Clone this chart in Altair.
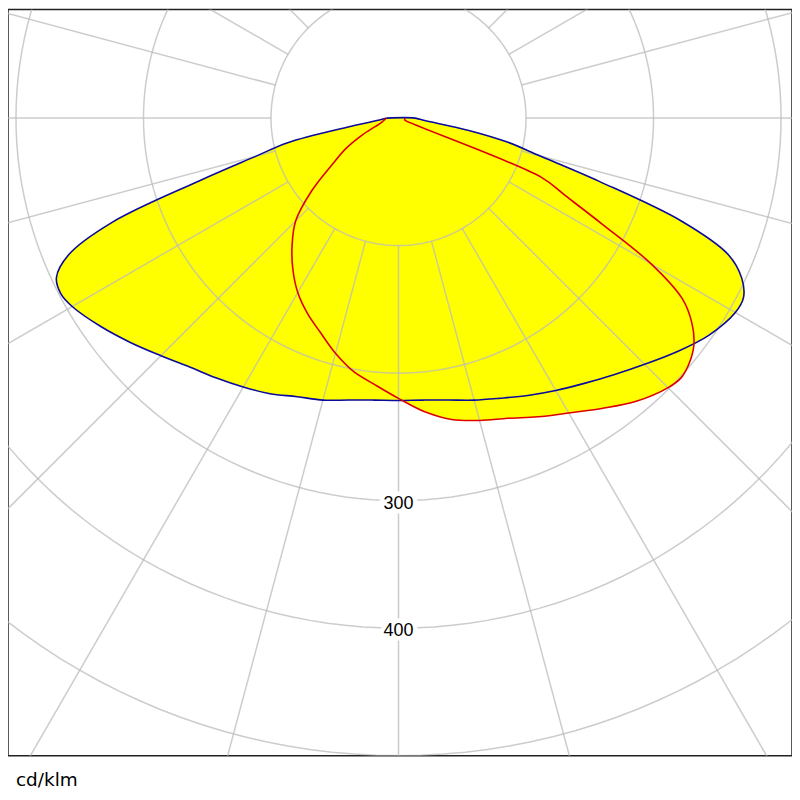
import altair as alt
import numpy as np
import pandas as pd

# ---- photometric data (cd/klm), gamma measured from nadir ----
# C0 (right half, blue)
c0_angle = [0, 5, 10, 15, 20, 25, 30, 35, 40, 45, 50, 55, 60, 62.5, 65, 67.5, 70, 72.5, 75, 77.5, 80, 85, 90]
c0_cd = [221.5, 222, 224.5, 229, 233.8, 240, 246.7, 254, 262.7, 273, 285, 297, 305, 305, 297, 280, 236, 165, 115, 88, 56, 19.7, 13]
# C180 (left half, blue)
c180_angle = [0, 5, 10, 15, 20, 25, 30, 35, 40, 45, 50, 55, 60, 62.5, 65, 67.5, 70, 72.5, 75, 77.5, 80, 85, 90]
c180_cd = [221.5, 222, 224.5, 229, 232.5, 238.5, 243.5, 248.8, 254.8, 263.5, 274, 285, 295.5, 298.5, 296, 280, 239, 164, 116, 89, 41, 13.6, 9]
# C90 (right half, red)
c90_angle = [0, 5, 10, 15, 20, 25, 30, 35, 40, 45, 47.5, 50, 52.5, 55, 57.5, 60, 62.5, 65, 67.5, 70, 75, 80, 85, 90]
c90_cd = [219.8, 231, 240, 245.5, 250.5, 258.5, 267, 278, 290, 299, 301, 298, 292, 281, 264, 229, 180, 145, 121, 6, 5, 5, 5, 5]
# C270 (left half, red)
c270_angle = [0, 5, 10, 15, 20, 25, 30, 35, 40, 45, 50, 55, 60, 65, 70, 75, 80, 85, 90]
c270_cd = [219.8, 210, 202, 191, 179, 169, 158, 144.5, 129.8, 114, 89, 63.5, 47.5, 31.5, 19.5, 14, 12, 10.5, 10]

ring_values = [100, 200, 300, 400, 500]
label_values = [300, 400]
radial_angles = list(range(0, 360, 15))
radial_outer = 700


def curve_rows(name, left_a, left_v, right_a, right_v, close):
    rows = []
    for a, v in zip(reversed(left_a), reversed(left_v)):
        rows.append({"curve": name, "side": -1, "gamma": a, "cd": v})
    for a, v in zip(right_a[1:], right_v[1:]):
        rows.append({"curve": name, "side": 1, "gamma": a, "cd": v})
    if close:
        rows.append(dict(rows[0]))
    for i, r in enumerate(rows):
        r["order"] = i
    return rows


blue_closed = pd.DataFrame(curve_rows("C0-C180", c180_angle, c180_cd, c0_angle, c0_cd, True))
red_closed = pd.DataFrame(curve_rows("C90-C270", c270_angle, c270_cd, c90_angle, c90_cd, True))
red_open = pd.DataFrame(curve_rows("C90-C270", c270_angle, c270_cd, c90_angle, c90_cd, False))

XD = [-306.25, 308.59]
YD = [-500, 85.156]
xs = alt.Scale(domain=XD, nice=False, zero=False)
ys = alt.Scale(domain=YD, nice=False, zero=False)


def polar(chart):
    return chart.transform_calculate(
        x="datum.side * datum.cd * sin(datum.gamma * PI / 180)",
        y="-datum.cd * cos(datum.gamma * PI / 180)",
    )


def enc(chart):
    return chart.encode(
        x=alt.X("x:Q", scale=xs, axis=None),
        y=alt.Y("y:Q", scale=ys, axis=None),
        order=alt.Order("order:Q"),
    )


fill_blue = enc(polar(alt.Chart(blue_closed).mark_line(
    fill="#ffff00", stroke="#ffff00", strokeWidth=0.5, interpolate="catmull-rom", clip=True)))
fill_red = enc(polar(alt.Chart(red_closed).mark_line(
    fill="#ffff00", stroke="#ffff00", strokeWidth=0.5, interpolate="catmull-rom", clip=True)))
line_blue = enc(polar(alt.Chart(blue_closed).mark_line(
    color="#0a0a9e", strokeWidth=1.6, interpolate="catmull-rom", clip=True)))
line_red = enc(polar(alt.Chart(red_open).mark_line(
    color="#dd0000", strokeWidth=1.6, interpolate="catmull-rom", clip=True)))

# grid rings
ring_rows = []
for r in ring_values:
    for i, t in enumerate(np.arange(0, 362, 2)):
        ring_rows.append({"ring": r, "t": float(t), "order": i})
rings_df = pd.DataFrame(ring_rows)
rings = alt.Chart(rings_df).mark_line(
    color="#bbbbbb", opacity=0.75, strokeWidth=1.5, clip=True
).transform_calculate(
    x="datum.ring * sin(datum.t * PI / 180)",
    y="-datum.ring * cos(datum.t * PI / 180)",
).encode(
    x=alt.X("x:Q", scale=xs, axis=None),
    y=alt.Y("y:Q", scale=ys, axis=None),
    detail="ring:N",
    order=alt.Order("order:Q"),
)

radials_df = pd.DataFrame({"a": radial_angles, "r0": ring_values[0], "r1": radial_outer})
radials = alt.Chart(radials_df).mark_rule(
    color="#bbbbbb", opacity=0.75, strokeWidth=1.5, clip=True
).transform_calculate(
    x="datum.r0 * sin(datum.a * PI / 180)",
    y="-datum.r0 * cos(datum.a * PI / 180)",
    x2="datum.r1 * sin(datum.a * PI / 180)",
    y2="-datum.r1 * cos(datum.a * PI / 180)",
).encode(
    x=alt.X("x:Q", scale=xs, axis=None),
    y=alt.Y("y:Q", scale=ys, axis=None),
    x2="x2:Q",
    y2="y2:Q",
)

labels_df = pd.DataFrame({"v": label_values})
lab_base = alt.Chart(labels_df).transform_calculate(
    x="0", y="-datum.v", txt="format(datum.v, 'd')"
).encode(
    x=alt.X("x:Q", scale=xs, axis=None),
    y=alt.Y("y:Q", scale=ys, axis=None),
    text="txt:N",
)
lab_halo = lab_base.mark_text(
    font="Liberation Sans", fontSize=18, dy=3, baseline="middle", align="center",
    fill="white", stroke="white", strokeWidth=9,
)
lab_text = lab_base.mark_text(
    font="Liberation Sans", fontSize=18, dy=3, baseline="middle", align="center", color="black",
)

chart = alt.layer(
    fill_blue, fill_red, rings, radials, lab_halo, lab_text, line_blue, line_red
).properties(
    width=787,
    height=749,
    padding={"left": 0, "top": 0, "right": 0, "bottom": 4},
    title=alt.TitleParams(
        "cd/klm", orient="bottom", anchor="start", font="DejaVu Sans",
        fontSize=18.5, fontWeight="normal", color="black", offset=15, dx=8,
    ),
).configure_view(stroke="#222222", strokeWidth=1.5)

chart.save("out.html", embed_options={"renderer": "svg", "actions": False})
